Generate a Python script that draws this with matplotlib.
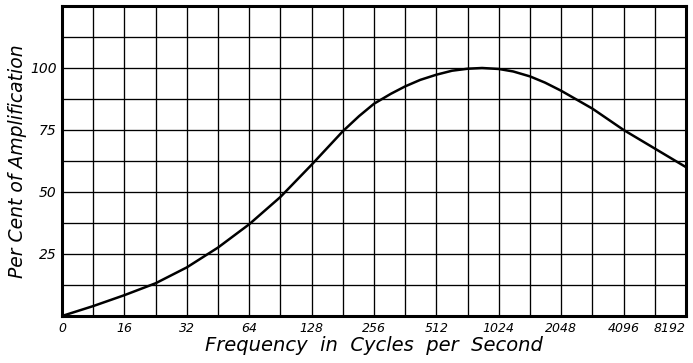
import matplotlib.pyplot as plt

# Frequency labels, evenly spaced (one octave per step)
freq_labels = ["0", "16", "32", "64", "128", "256", "512", "1024", "2048", "4096", "8192"]

# Amplification read along the frequency axis (position in octave steps)
curve_pos = [0, 0.5, 1, 1.5, 2, 2.5, 3, 3.5, 4, 4.5, 4.76, 5, 5.27, 5.5, 5.74, 6, 6.25,
             6.5, 6.73, 7, 7.23, 7.5, 7.74, 8, 8.5, 9, 9.5, 10]
curve_pct = [0, 4, 8.4, 13.2, 19.6, 27.6, 37, 48, 61, 74.5, 80.6, 85.6, 89.6, 92.6, 95.2, 97.3,
             98.9, 99.7, 100, 99.6, 98.6, 96.6, 94.1, 90.8, 83.6, 75, 67.5, 60]

y_ticks = [25, 50, 75, 100]

plt.rcParams['font.family'] = ['DejaVu Sans']

fig = plt.figure(figsize=(6.93, 3.63), dpi=100)
ax = fig.add_axes([0.0895, 0.1295, 0.9005, 0.854])

# graph-paper grid: two cells per octave, 12.5 % per cell
for i in range(1, 20):
    ax.axvline(i * 0.5, color='black', lw=0.95, zorder=1)
for j in range(1, 10):
    ax.axhline(j * 12.5, color='black', lw=0.95, zorder=1)

ax.plot(curve_pos, curve_pct, color='black', lw=1.8, solid_capstyle='round',
        solid_joinstyle='round', zorder=3)

ax.set_xlim(0, 10)
ax.set_ylim(0, 125)
ax.set_xticks(range(len(freq_labels)))
ax.set_xticklabels(freq_labels, fontsize=9, style='italic')
ax.get_xticklabels()[-1].set_horizontalalignment('right')
ax.set_yticks(y_ticks)
ax.set_yticklabels([str(v) for v in y_ticks], fontsize=10, style='italic')
ax.tick_params(length=0, pad=4)

for s in ax.spines.values():
    s.set_linewidth(2.2)

ax.set_xlabel("Frequency  in  Cycles  per  Second", fontsize=14, style='italic', labelpad=1)
ax.set_ylabel("Per Cent of Amplification", fontsize=13.5, style='italic')
ax.yaxis.set_label_coords(-0.056, 0.5)

fig.savefig("out.png", dpi=100)
